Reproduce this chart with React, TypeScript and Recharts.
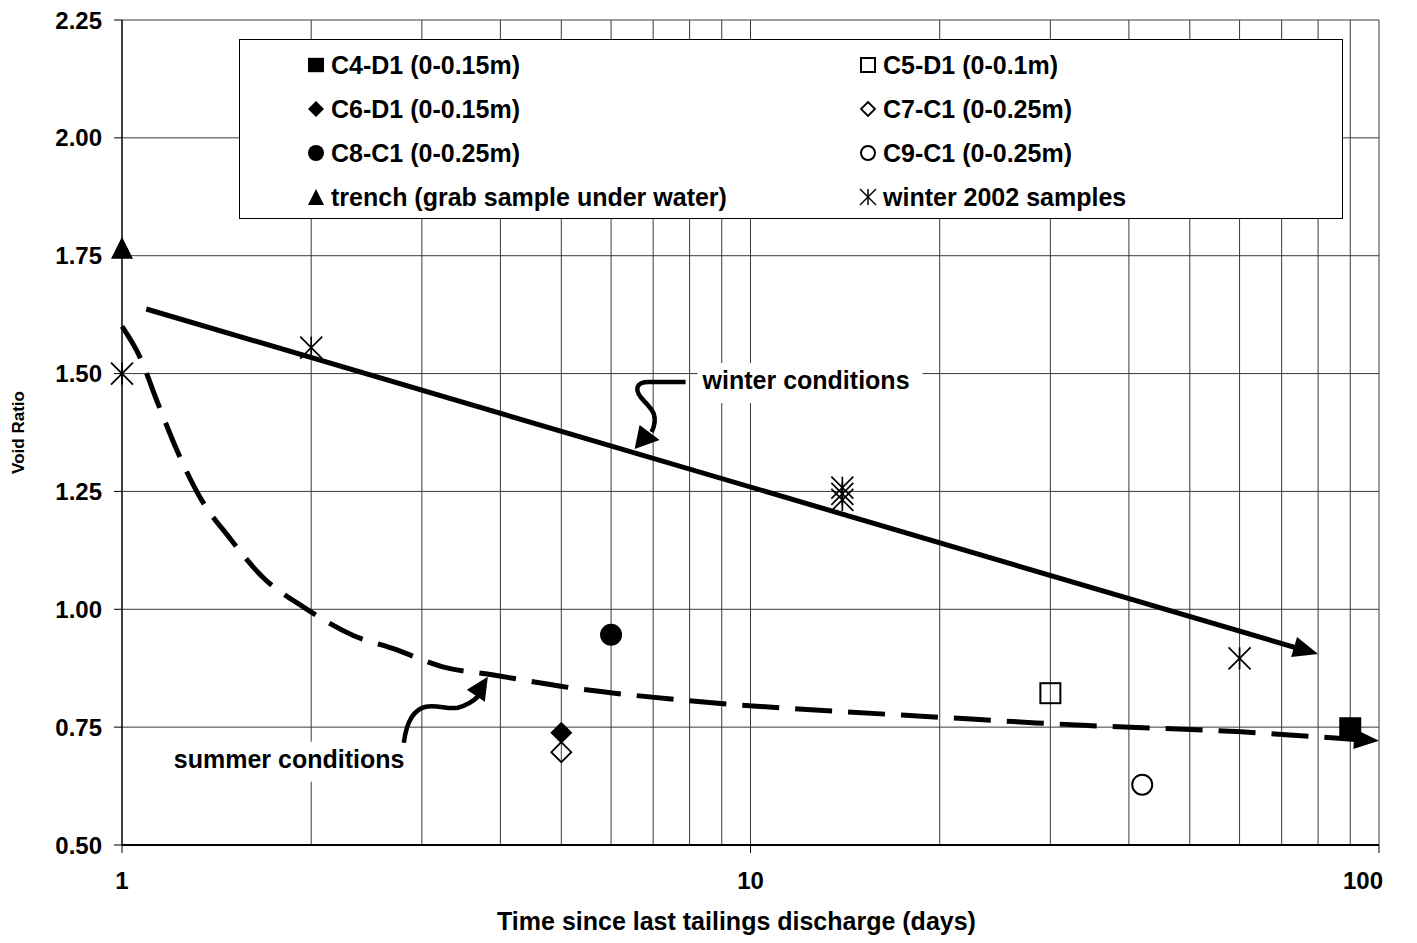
import React from 'react';
import {
  ComposedChart,
  Line,
  Scatter,
  XAxis,
  YAxis,
  CartesianGrid,
  ReferenceLine,
  ReferenceDot,
  Label,
} from 'recharts';

const FONT = '"Liberation Sans", Arial, Helvetica, sans-serif';

// ---- axes ----
const yTicks = [0.5, 0.75, 1.0, 1.25, 1.5, 1.75, 2.0, 2.25];
const xTicks = [1, 10, 100];
const xGridValues = [2, 3, 4, 5, 6, 7, 8, 9, 10, 20, 30, 40, 50, 60, 70, 80, 90, 100];

// ---- samples (t = days since last discharge, e = void ratio) ----
const c4d1 = [{ t: 90, e: 0.75 }];
const c5d1 = [{ t: 30, e: 0.822 }];
const c6d1 = [{ t: 5, e: 0.738 }];
const c7c1 = [{ t: 5, e: 0.697 }];
const c8c1 = [{ t: 6, e: 0.946 }];
const c9c1 = [{ t: 42, e: 0.628 }];
const trench = [{ t: 1, e: 1.767 }];
const winter2002 = [
  { t: 1, e: 1.5 },
  { t: 2, e: 1.555 },
  { t: 14, e: 1.258 },
  { t: 14, e: 1.245 },
  { t: 14, e: 1.232 },
  { t: 60, e: 0.896 },
];

// ---- trend lines ----
const winterTrend = [
  { t: 1.093, e: 1.637 },
  { t: 74.8, e: 0.916 },
];
const winterTrendTip = { t: 80, e: 0.905 };

const summerTrend = [
  { t: 1, e: 1.6 },
  { t: 1.067, e: 1.536 },
  { t: 1.14, e: 1.4375 },
  { t: 1.226, e: 1.334 },
  { t: 1.33, e: 1.238 },
  { t: 1.484, e: 1.151 },
  { t: 1.675, e: 1.068 },
  { t: 1.953, e: 1.003 },
  { t: 2.329, e: 0.945 },
  { t: 2.696, e: 0.917 },
  { t: 3.238, e: 0.878 },
  { t: 3.9, e: 0.8605 },
  { t: 5.28, e: 0.832 },
  { t: 6.47, e: 0.818 },
  { t: 7.78, e: 0.8075 },
  { t: 9.37, e: 0.798 },
  { t: 13.57, e: 0.784 },
  { t: 20, e: 0.771 },
  { t: 28.5, e: 0.759 },
  { t: 34.4, e: 0.7535 },
  { t: 44.9, e: 0.7475 },
  { t: 60.4, e: 0.74 },
  { t: 73, e: 0.733 },
  { t: 93, e: 0.7235 },
];
const summerTrendTip = { t: 100, e: 0.721 };

// ---- annotations ----
const winterNoteAt = { t: 6.54, e: 1.34 };
const summerNoteAt = { t: 3.82, e: 0.857 };
const winterNoteText = 'winter conditions';
const summerNoteText = 'summer conditions';

// ---- legend ----
const legendNames = [
  'C4-D1 (0-0.15m)',
  'C5-D1 (0-0.1m)',
  'C6-D1 (0-0.15m)',
  'C7-C1 (0-0.25m)',
  'C8-C1 (0-0.25m)',
  'C9-C1 (0-0.25m)',
  'trench (grab sample under water)',
  'winter 2002 samples',
];
const legendKinds = [
  'squareFilled',
  'squareOpen',
  'diamondFilled',
  'diamondOpen',
  'circleFilled',
  'circleOpen',
  'triangleFilled',
  'star',
];

const xAxisTitle = 'Time since last tailings discharge (days)';
const yAxisTitle = 'Void Ratio';

function Marker({ kind, cx, cy, s }: { kind: string; cx: number; cy: number; s: number }) {
  const h = s / 2;
  switch (kind) {
    case 'squareFilled':
      return <rect x={cx - h} y={cy - h * 0.9} width={s} height={s * 0.9} fill="#000" />;
    case 'squareOpen':
      return (
        <rect x={cx - h + 1} y={cy - h + 1} width={s - 2} height={s - 2} fill="none" stroke="#000" strokeWidth={2} />
      );
    case 'diamondFilled':
      return <polygon points={`${cx},${cy - h} ${cx + h},${cy} ${cx},${cy + h} ${cx - h},${cy}`} fill="#000" />;
    case 'diamondOpen':
      return (
        <polygon
          points={`${cx},${cy - h + 1} ${cx + h - 1},${cy} ${cx},${cy + h - 1} ${cx - h + 1},${cy}`}
          fill="none"
          stroke="#000"
          strokeWidth={1.8}
        />
      );
    case 'circleFilled':
      return <circle cx={cx} cy={cy} r={h} fill="#000" />;
    case 'circleOpen':
      return <circle cx={cx} cy={cy} r={h - 1} fill="none" stroke="#000" strokeWidth={2} />;
    case 'triangleFilled':
      return <polygon points={`${cx},${cy - h} ${cx + h},${cy + h} ${cx - h},${cy + h}`} fill="#000" />;
    case 'star':
    default:
      return (
        <g stroke="#000" strokeWidth={s > 18 ? 1.7 : 1.5}>
          <line x1={cx - h} y1={cy - h} x2={cx + h} y2={cy + h} />
          <line x1={cx - h} y1={cy + h} x2={cx + h} y2={cy - h} />
          <line x1={cx} y1={cy - h} x2={cx} y2={cy + h} />
        </g>
      );
  }
}

const shapeFor = (kind: string) => (p: any) => <Marker kind={kind} cx={p.cx} cy={p.cy} s={22} />;

function arrowHead(cx: number, cy: number, angleDeg: number, len: number, half: number) {
  return (
    <polygon
      points={`0,0 ${-len},${-half} ${-len},${half}`}
      transform={`translate(${cx},${cy}) rotate(${angleDeg})`}
      fill="#000"
    />
  );
}

const textStyle = { fontFamily: FONT, fontWeight: 700, fontSize: 25, fill: '#000' };

function WinterNote({ cx, cy }: { cx: number; cy: number }) {
  return (
    <g transform={`translate(${cx},${cy})`}>
      <rect x={63} y={-86} width={225} height={40} fill="#fff" />
      <text x={68} y={-60} style={textStyle as any}>
        {winterNoteText}
      </text>
      <path
        d="M 51 -67 L 14 -67 C 2 -67 0 -60 6 -52 C 14 -42 26 -36 17 -17"
        fill="none"
        stroke="#000"
        strokeWidth={4.5}
      />
      <polygon points="0,0 5,-24 25,-9" fill="#000" />
    </g>
  );
}

function SummerNote({ cx, cy }: { cx: number; cy: number }) {
  return (
    <g transform={`translate(${cx},${cy})`}>
      <rect x={-320} y={65} width={241} height={40} fill="#fff" />
      <text x={-314} y={91} style={textStyle as any}>
        {summerNoteText}
      </text>
      <path
        d="M -84 66 C -82 50 -76 33 -62 30 C -50 28 -40 33 -30 31 C -22 29 -16 26 -10 20"
        fill="none"
        stroke="#000"
        strokeWidth={4.5}
      />
      <polygon points="0,0 -21,13 -3,25" fill="#000" />
    </g>
  );
}

function XTick(props: any) {
  const { x, y, payload } = props;
  const last = payload.value === 100;
  return (
    <text
      x={last ? x + 4 : x}
      y={y}
      dy="0.71em"
      textAnchor={last ? 'end' : 'middle'}
      style={{ fontFamily: FONT, fontWeight: 700, fontSize: 24, fill: '#000' }}
    >
      {String(payload.value)}
    </text>
  );
}

function XTitle(props: any) {
  const vb = props.viewBox || {};
  return (
    <text
      x={vb.x + vb.width / 2 - 14}
      y={vb.y + vb.height - 5}
      textAnchor="middle"
      style={{ fontFamily: FONT, fontWeight: 700, fontSize: 25, fill: '#000' }}
    >
      {xAxisTitle}
    </text>
  );
}

function LegendBox() {
  const rows = [0, 1, 2, 3];
  return (
    <div
      style={{
        position: 'absolute',
        left: 231,
        top: 31,
        width: 1102,
        height: 178,
        border: '1px solid #000',
        background: '#fff',
        fontFamily: FONT,
        fontWeight: 700,
        fontSize: 25,
        color: '#000',
      }}
    >
      {rows.map((r) =>
        [0, 1].map((c) => {
          const i = r * 2 + c;
          const markerCx = c === 0 ? 76 : 628;
          const textX = c === 0 ? 91 : 643;
          const top = 3 + r * 44;
          return (
            <React.Fragment key={i}>
              <svg
                width={20}
                height={44}
                style={{ position: 'absolute', left: markerCx - 10, top }}
              >
                <Marker kind={legendKinds[i]} cx={10} cy={22} s={16} />
              </svg>
              <div
                style={{
                  position: 'absolute',
                  left: textX,
                  top,
                  height: 44,
                  lineHeight: '44px',
                  whiteSpace: 'nowrap',
                }}
              >
                {legendNames[i]}
              </div>
            </React.Fragment>
          );
        })
      )}
    </div>
  );
}

export default function App() {
  const gridStroke = '#3a3a3a';
  return (
    <div style={{ position: 'relative', width: 1401, height: 927, background: '#fff' }}>
      <ComposedChart width={1401} height={927} margin={{ top: 12, right: 30, bottom: 0, left: 0 }}>
        <CartesianGrid vertical={false} stroke={gridStroke} strokeWidth={1} />
        {xGridValues.map((v) => (
          <ReferenceLine key={v} x={v} stroke={gridStroke} strokeWidth={1} ifOverflow="visible" />
        ))}
        <XAxis
          dataKey="t"
          type="number"
          scale="log"
          domain={[1, 100]}
          ticks={xTicks}
          interval={0}
          height={90}
          tickSize={8}
          tickMargin={19}
          axisLine={{ stroke: '#000', strokeWidth: 2 }}
          tickLine={{ stroke: '#000', strokeWidth: 1 }}
          tick={<XTick />}
        >
          <Label position="insideBottom" content={<XTitle />} />
        </XAxis>
        <YAxis
          type="number"
          domain={[0.5, 2.25]}
          ticks={yTicks}
          interval={0}
          width={114}
          tickSize={8}
          tickMargin={12}
          tickFormatter={(v: number) => v.toFixed(2)}
          axisLine={{ stroke: '#000', strokeWidth: 1.5 }}
          tickLine={{ stroke: '#000', strokeWidth: 1 }}
          tick={{ fontFamily: FONT, fontWeight: 700, fontSize: 24, fill: '#000' }}
        >
          <Label
            value={yAxisTitle}
            angle={-90}
            position="insideLeft"
            offset={10}
            style={{ fontFamily: FONT, fontWeight: 700, fontSize: 17, fill: '#000', textAnchor: 'middle' }}
          />
        </YAxis>

        <Line
          data={winterTrend}
          dataKey="e"
          type="linear"
          stroke="#000"
          strokeWidth={5}
          dot={false}
          activeDot={false}
          isAnimationActive={false}
        />
        <Line
          data={summerTrend}
          dataKey="e"
          type="monotone"
          stroke="#000"
          strokeWidth={5}
          strokeDasharray="37 16"
          dot={false}
          activeDot={false}
          isAnimationActive={false}
        />
        <ReferenceDot
          x={winterTrendTip.t}
          y={winterTrendTip.e}
          ifOverflow="visible"
          shape={(p: any) => arrowHead(p.cx, p.cy, 16.4, 25, 10.5)}
        />
        <ReferenceDot
          x={summerTrendTip.t}
          y={summerTrendTip.e}
          ifOverflow="visible"
          shape={(p: any) => arrowHead(p.cx, p.cy, 4, 25, 10)}
        />

        <Scatter data={c4d1} dataKey="e" shape={shapeFor('squareFilled')} isAnimationActive={false} />
        <Scatter data={c5d1} dataKey="e" shape={shapeFor('squareOpen')} isAnimationActive={false} />
        <Scatter data={c6d1} dataKey="e" shape={shapeFor('diamondFilled')} isAnimationActive={false} />
        <Scatter data={c7c1} dataKey="e" shape={shapeFor('diamondOpen')} isAnimationActive={false} />
        <Scatter data={c8c1} dataKey="e" shape={shapeFor('circleFilled')} isAnimationActive={false} />
        <Scatter data={c9c1} dataKey="e" shape={shapeFor('circleOpen')} isAnimationActive={false} />
        <Scatter data={trench} dataKey="e" shape={shapeFor('triangleFilled')} isAnimationActive={false} />
        <Scatter data={winter2002} dataKey="e" shape={shapeFor('star')} isAnimationActive={false} />

        <ReferenceDot
          x={winterNoteAt.t}
          y={winterNoteAt.e}
          ifOverflow="visible"
          shape={(p: any) => <WinterNote cx={p.cx} cy={p.cy} />}
        />
        <ReferenceDot
          x={summerNoteAt.t}
          y={summerNoteAt.e}
          ifOverflow="visible"
          shape={(p: any) => <SummerNote cx={p.cx} cy={p.cy} />}
        />
      </ComposedChart>
      <LegendBox />
    </div>
  );
}
